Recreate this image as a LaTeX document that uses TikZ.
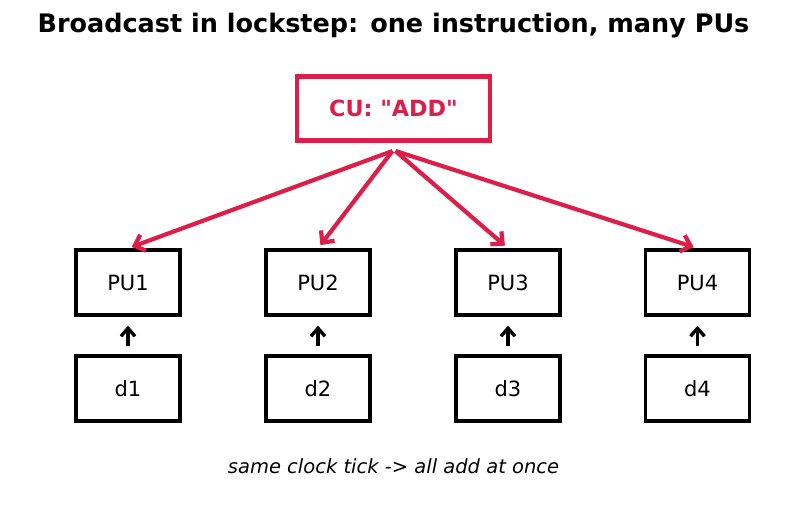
\documentclass[tikz,border=0pt]{standalone}
\usepackage{fontspec}
\setmainfont{DejaVu Sans}[Ligatures=TeXReset]
\usepackage{xcolor}
\usetikzlibrary{arrows.meta, positioning}

\definecolor{cured}{RGB}{220,30,72}

\begin{document}
\begin{tikzpicture}[
    x=1pt, y=-1pt,
    cubox/.style={rectangle, draw=cured, line width=4.4pt, minimum width=193pt, minimum height=64pt, text=cured, font=\fontsize{22.3}{26}\selectfont\bfseries},
    pubox/.style={rectangle, draw=black, line width=3.4pt, minimum width=104pt, minimum height=65pt, font=\fontsize{21}{25}\selectfont},
    bcast/.style={-{Straight Barb[length=9pt, width=17pt]}, draw=cured, line width=4.2pt, shorten >=4pt},
    feed/.style={-{Straight Barb[length=8pt, width=14pt]}, draw=black, line width=3.4pt, shorten >=9pt, shorten <=8pt}
]

\useasboundingbox (0,0) rectangle (787,512);

% Title
\node[font=\fontsize{25.5}{30}\selectfont\bfseries] (title) at (393.5,26) {Broadcast in lockstep: one instruction, many PUs};

% Control unit
\node[cubox] (cu) at (393.5,108.5) {CU: "ADD"};
\coordinate (hub) at (394,151);

% Processing units
\node[pubox] (pu1) at (128,282.5) {PU1};
\node[pubox] (pu2) at (318,282.5) {PU2};
\node[pubox] (pu3) at (508,282.5) {PU3};
\node[pubox] (pu4) at (697.5,282.5) {PU4};

% Data
\node[pubox] (d1) at (128,388.5) {d1};
\node[pubox] (d2) at (318,388.5) {d2};
\node[pubox] (d3) at (508,388.5) {d3};
\node[pubox] (d4) at (697.5,388.5) {d4};

% Broadcast arrows
\draw[bcast] ([xshift=-1.5pt]hub) -- (pu1.north);
\draw[bcast] ([xshift=-1.5pt]hub) -- (pu2.north);
\draw[bcast] ([xshift=1.5pt]hub) -- (pu3.north);
\draw[bcast] ([xshift=1.5pt]hub) -- (pu4.north);

% Data feeds
\draw[feed] (d1.north) -- (pu1.south);
\draw[feed] (d2.north) -- (pu2.south);
\draw[feed] (d3.north) -- (pu3.south);
\draw[feed] (d4.north) -- (pu4.south);

% Caption
\node[font=\fontsize{19.5}{23}\selectfont\itshape] (note) at (393.5,466) {same clock tick -> all add at once};

\end{tikzpicture}
\end{document}
